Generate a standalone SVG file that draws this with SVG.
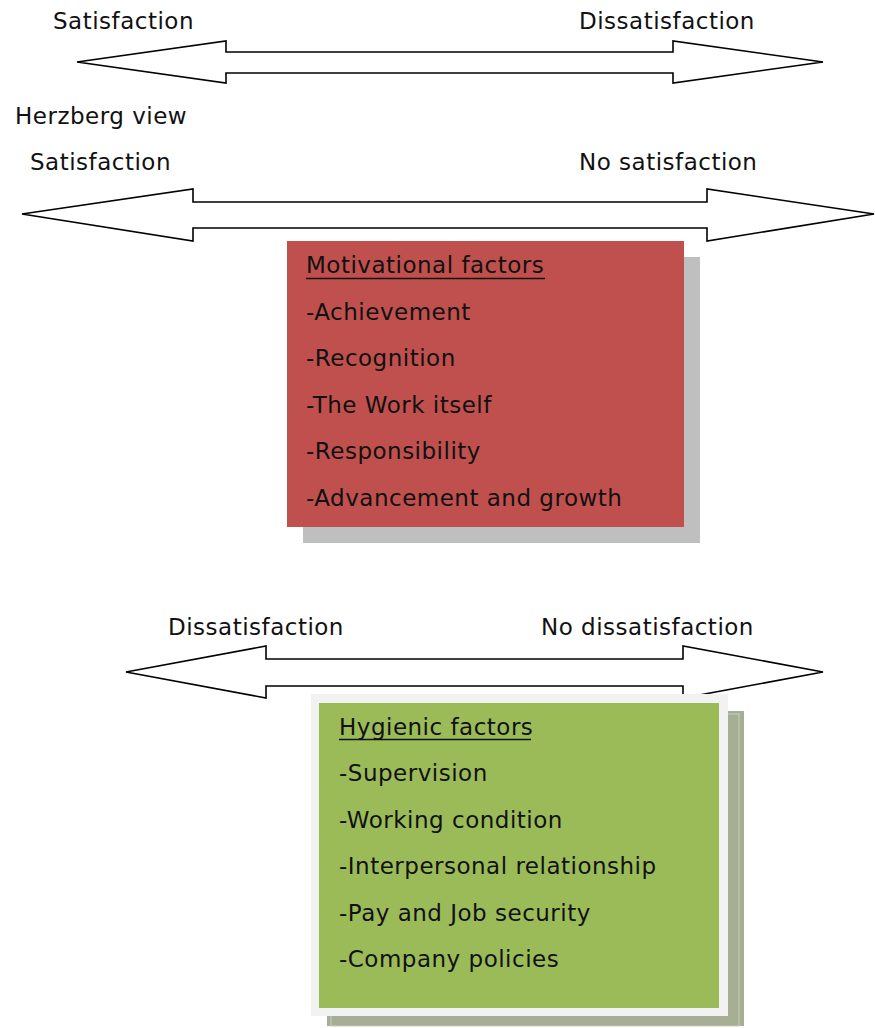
<svg xmlns="http://www.w3.org/2000/svg" width="875" height="1028" viewBox="0 0 875 1028">
  <style>
    .lbl { font-family: "DejaVu Sans", "Liberation Sans", sans-serif; font-size: 23px; letter-spacing: 0.5px; fill: #111; }
    .arrow { fill: #fff; stroke: #000; stroke-width: 1.6; stroke-linejoin: miter; }
    .uline { stroke: #111; stroke-width: 1.6; }
  </style>

  <!-- scale labels -->
  <g id="labels">
    <text class="lbl" x="53" y="29">Satisfaction</text>
    <text class="lbl" x="579" y="29">Dissatisfaction</text>
    <text class="lbl" x="15" y="124">Herzberg view</text>
    <text class="lbl" x="30" y="170">Satisfaction</text>
    <text class="lbl" x="579" y="170">No satisfaction</text>
    <text class="lbl" x="168" y="635">Dissatisfaction</text>
    <text class="lbl" x="541" y="635">No dissatisfaction</text>
  </g>

  <!-- double-headed block arrows -->
  <g id="arrows">
    <polygon id="arrow-traditional" class="arrow" points="77,62 226,41 226,52 673,52 673,41 823,62 673,83 673,73 226,73 226,83"/>
    <polygon id="arrow-motivation" class="arrow" points="22,214 193,189 193,202 707,202 707,189 874,214 707,241 707,228 193,228 193,241"/>
    <polygon id="arrow-hygiene" class="arrow" points="126,672 266,646 266,659 683,659 683,646 823,672 683,698 683,686 266,686 266,698"/>
  </g>

  <!-- motivational factors box -->
  <g id="motivational">
    <rect x="303" y="257" width="397" height="286" fill="#bfbfbf"/>
    <rect x="287" y="241" width="397" height="286" fill="#c0504d"/>
    <text class="lbl" x="306" y="273">Motivational factors</text>
    <line class="uline" x1="306" y1="278.5" x2="545" y2="278.5"/>
    <text class="lbl" x="306" y="319.5">-Achievement</text>
    <text class="lbl" x="306" y="366">-Recognition</text>
    <text class="lbl" x="306" y="412.5">-The Work itself</text>
    <text class="lbl" x="306" y="459">-Responsibility</text>
    <text class="lbl" x="306" y="505.5">-Advancement and growth</text>
  </g>

  <!-- hygienic factors box -->
  <g id="hygienic">
    <rect x="327" y="711" width="417" height="315" fill="#a6ae93"/>
    <rect x="331" y="714" width="408" height="312" fill="none" stroke="#c9cdbb" stroke-width="1"/>
    <rect x="311" y="694" width="417" height="322" fill="#f2f2f2"/>
    <rect x="319" y="703" width="400" height="305" fill="#9bbb59"/>
    <text class="lbl" x="339" y="735">Hygienic factors</text>
    <line class="uline" x1="339" y1="739.5" x2="531" y2="739.5"/>
    <text class="lbl" x="339" y="781">-Supervision</text>
    <text class="lbl" x="339" y="827.5">-Working condition</text>
    <text class="lbl" x="339" y="874">-Interpersonal relationship</text>
    <text class="lbl" x="339" y="920.5">-Pay and Job security</text>
    <text class="lbl" x="339" y="967">-Company policies</text>
  </g>
</svg>
